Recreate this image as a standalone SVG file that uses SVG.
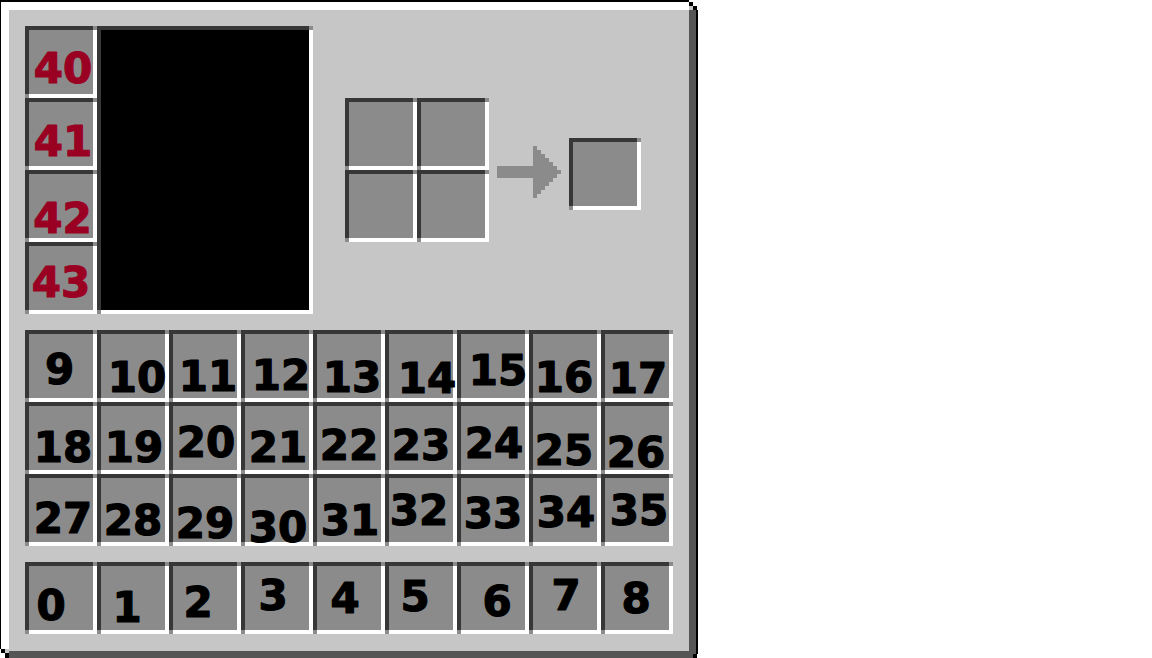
<svg xmlns="http://www.w3.org/2000/svg" xmlns:xlink="http://www.w3.org/1999/xlink" width="1152" height="658" viewBox="0 0 1152 658">
<style>
.n{font-family:"DejaVu Sans",Verdana,"Liberation Sans",sans-serif;font-weight:bold;font-size:42px;text-anchor:middle;stroke-width:1.2px;stroke-linejoin:round}
.r{fill:#990022;stroke:#990022}
.k{fill:#000000;stroke:#000000}
.dk{fill:#373737}
.wh{fill:#ffffff}
.md{fill:#8b8b8b}
</style>
<defs>
<g id="slot">
<rect x="0" y="0" width="72" height="72" class="md"/>
<rect x="0" y="0" width="68" height="4" class="dk"/>
<rect x="0" y="0" width="4" height="68" class="dk"/>
<rect x="4" y="68" width="68" height="4" class="wh"/>
<rect x="68" y="4" width="4" height="68" class="wh"/>
</g>
</defs>
<rect x="0" y="0" width="1152" height="658" fill="#ffffff"/>
<g id="frame">
<rect x="9" y="10" width="680" height="641" fill="#c6c6c6"/>
<rect x="0" y="0" width="689" height="2" fill="#000"/>
<rect x="0" y="0" width="1" height="649" fill="#000"/>
<rect x="1" y="2" width="688" height="8" fill="#fff"/>
<rect x="1" y="2" width="8" height="647" fill="#fff"/>
<rect x="689" y="2" width="4" height="4" fill="#000"/>
<rect x="693" y="6" width="4" height="4" fill="#000"/>
<rect x="689" y="6" width="4" height="4" fill="#c6c6c6"/>
<rect x="689" y="10" width="7" height="644" fill="#555555"/>
<rect x="696" y="10" width="2" height="644" fill="#000"/>
<rect x="9" y="651" width="684" height="7" fill="#555555"/>
<rect x="685" y="646" width="4" height="5" fill="#c6c6c6"/>
<rect x="1" y="649" width="4" height="4" fill="#000"/>
<rect x="5" y="649" width="4" height="4" fill="#c6c6c6"/>
<rect x="5" y="653" width="4" height="5" fill="#000"/>
<rect x="693" y="654" width="4" height="4" fill="#000"/>
</g>
<g id="player-view">
<rect x="97" y="26" width="216" height="288" fill="#000"/>
<rect x="309" y="26" width="4" height="4" class="md"/>
<rect x="309" y="30" width="4" height="284" class="wh"/>
<rect x="101" y="310" width="212" height="4" class="wh"/>
<rect x="97" y="310" width="4" height="4" class="md"/>
<rect x="97" y="26" width="212" height="4" class="dk"/>
<rect x="97" y="26" width="4" height="284" class="dk"/>
</g>
<g id="crafting">
<g id="craft-0"><use xlink:href="#slot" x="345" y="98"/></g>
<g id="craft-1"><use xlink:href="#slot" x="417" y="98"/></g>
<g id="craft-2"><use xlink:href="#slot" x="345" y="170"/></g>
<g id="craft-3"><use xlink:href="#slot" x="417" y="170"/></g>
<g id="craft-output"><use xlink:href="#slot" x="569" y="138"/></g>
</g>
<g id="connectors">
<polygon class="md" points="497,166 533,166 533,146 537,146 537,150 541,150 541,154 545,154 545,158 549,158 549,162 553,162 553,166 557,166 557,170 561,170 561,174 557,174 557,178 553,178 553,182 549,182 549,186 545,186 545,190 541,190 541,194 537,194 537,198 533,198 533,178 497,178"/>
</g>
<g id="armor">
<g id="slot-40"><use xlink:href="#slot" x="25" y="26"/><text class="n r" x="63" y="83">40</text></g>
<g id="slot-41"><use xlink:href="#slot" x="25" y="98"/><text class="n r" x="63" y="156">41</text></g>
<g id="slot-42"><use xlink:href="#slot" x="25" y="170"/><text class="n r" x="62.5" y="233">42</text></g>
<g id="slot-43"><use xlink:href="#slot" x="25" y="242"/><text class="n r" x="61" y="297">43</text></g>
</g>
<g id="inventory">
<g id="slot-9"><use xlink:href="#slot" x="25" y="330"/><text class="n k" x="59.5" y="384">9</text></g>
<g id="slot-10"><use xlink:href="#slot" x="97" y="330"/><text class="n k" x="137" y="392">10</text></g>
<g id="slot-11"><use xlink:href="#slot" x="169" y="330"/><text class="n k" x="208" y="391">11</text></g>
<g id="slot-12"><use xlink:href="#slot" x="241" y="330"/><text class="n k" x="281" y="390">12</text></g>
<g id="slot-13"><use xlink:href="#slot" x="313" y="330"/><text class="n k" x="352" y="392">13</text></g>
<g id="slot-14"><use xlink:href="#slot" x="385" y="330"/><text class="n k" x="427" y="393">14</text></g>
<g id="slot-15"><use xlink:href="#slot" x="457" y="330"/><text class="n k" x="498" y="385">15</text></g>
<g id="slot-16"><use xlink:href="#slot" x="529" y="330"/><text class="n k" x="564" y="392">16</text></g>
<g id="slot-17"><use xlink:href="#slot" x="601" y="330"/><text class="n k" x="638" y="393">17</text></g>
<g id="slot-18"><use xlink:href="#slot" x="25" y="402"/><text class="n k" x="63" y="462">18</text></g>
<g id="slot-19"><use xlink:href="#slot" x="97" y="402"/><text class="n k" x="134" y="462">19</text></g>
<g id="slot-20"><use xlink:href="#slot" x="169" y="402"/><text class="n k" x="206" y="457">20</text></g>
<g id="slot-21"><use xlink:href="#slot" x="241" y="402"/><text class="n k" x="278" y="462">21</text></g>
<g id="slot-22"><use xlink:href="#slot" x="313" y="402"/><text class="n k" x="349" y="460">22</text></g>
<g id="slot-23"><use xlink:href="#slot" x="385" y="402"/><text class="n k" x="421" y="460">23</text></g>
<g id="slot-24"><use xlink:href="#slot" x="457" y="402"/><text class="n k" x="494" y="458">24</text></g>
<g id="slot-25"><use xlink:href="#slot" x="529" y="402"/><text class="n k" x="564" y="465">25</text></g>
<g id="slot-26"><use xlink:href="#slot" x="601" y="402"/><text class="n k" x="636" y="467">26</text></g>
<g id="slot-27"><use xlink:href="#slot" x="25" y="474"/><text class="n k" x="63" y="533">27</text></g>
<g id="slot-28"><use xlink:href="#slot" x="97" y="474"/><text class="n k" x="133" y="535">28</text></g>
<g id="slot-29"><use xlink:href="#slot" x="169" y="474"/><text class="n k" x="205" y="538">29</text></g>
<g id="slot-30"><use xlink:href="#slot" x="241" y="474"/><text class="n k" x="278" y="542">30</text></g>
<g id="slot-31"><use xlink:href="#slot" x="313" y="474"/><text class="n k" x="350" y="535">31</text></g>
<g id="slot-32"><use xlink:href="#slot" x="385" y="474"/><text class="n k" x="419" y="525">32</text></g>
<g id="slot-33"><use xlink:href="#slot" x="457" y="474"/><text class="n k" x="493" y="528">33</text></g>
<g id="slot-34"><use xlink:href="#slot" x="529" y="474"/><text class="n k" x="566" y="527">34</text></g>
<g id="slot-35"><use xlink:href="#slot" x="601" y="474"/><text class="n k" x="639" y="525">35</text></g>
</g>
<g id="hotbar">
<g id="slot-0"><use xlink:href="#slot" x="25" y="562"/><text class="n k" x="51" y="620">0</text></g>
<g id="slot-1"><use xlink:href="#slot" x="97" y="562"/><text class="n k" x="127" y="622">1</text></g>
<g id="slot-2"><use xlink:href="#slot" x="169" y="562"/><text class="n k" x="198" y="617">2</text></g>
<g id="slot-3"><use xlink:href="#slot" x="241" y="562"/><text class="n k" x="273" y="610">3</text></g>
<g id="slot-4"><use xlink:href="#slot" x="313" y="562"/><text class="n k" x="345" y="613">4</text></g>
<g id="slot-5"><use xlink:href="#slot" x="385" y="562"/><text class="n k" x="415" y="611">5</text></g>
<g id="slot-6"><use xlink:href="#slot" x="457" y="562"/><text class="n k" x="497" y="616">6</text></g>
<g id="slot-7"><use xlink:href="#slot" x="529" y="562"/><text class="n k" x="566" y="610">7</text></g>
<g id="slot-8"><use xlink:href="#slot" x="601" y="562"/><text class="n k" x="636" y="613">8</text></g>
</g>
</svg>
